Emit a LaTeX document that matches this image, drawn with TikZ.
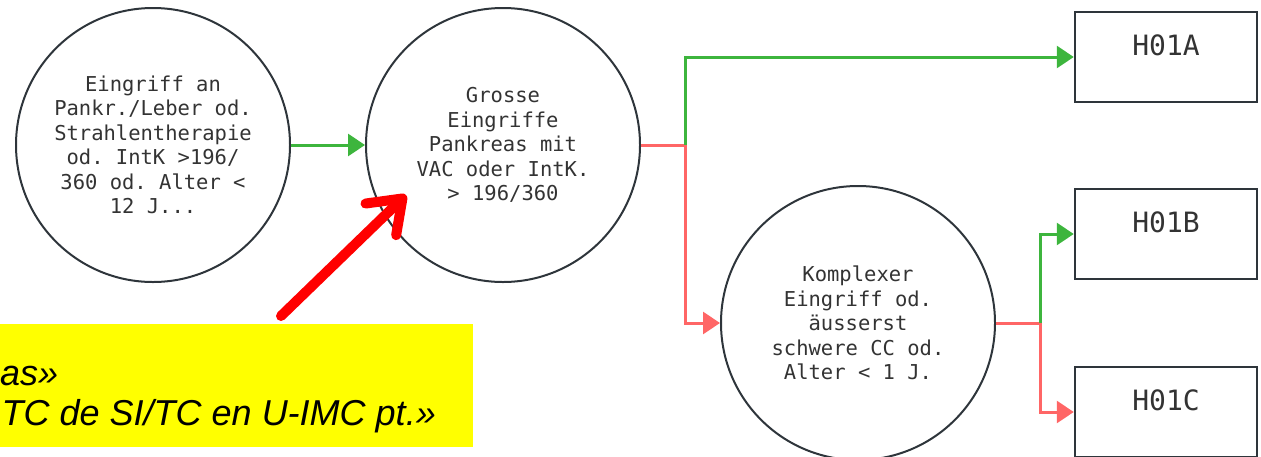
\documentclass[tikz,border=0pt]{standalone}
\usepackage{fontspec}
\setmainfont{Liberation Sans}
\setmonofont{DejaVu Sans Mono}
\usetikzlibrary{arrows.meta}

\definecolor{yesgreen}{HTML}{3DB53D}
\definecolor{nored}{HTML}{FF6666}
\definecolor{outline}{HTML}{2E353B}
\definecolor{ink}{HTML}{333333}
\definecolor{marker}{HTML}{FFFF00}
\definecolor{pointer}{HTML}{FF0000}

\begin{document}
\begin{tikzpicture}[x=1pt,y=-1pt,
    cond/.style={circle,draw=outline,line width=2pt,minimum size=274pt,inner sep=0pt,
        align=center,text=ink,font=\ttfamily\fontsize{20.5}{24.5}\selectfont},
    code/.style={rectangle,draw=outline,line width=2.5pt,minimum width=182pt,minimum height=90pt,
        text=ink,font=\ttfamily\fontsize{28}{30}\selectfont,text height=21pt,text depth=24pt},
    yes/.style={draw=yesgreen,line width=3pt},
    no/.style={draw=nored,line width=3pt},
    tip/.style={-{Triangle[length=17pt,width=22pt]}},
    notebox/.style={fill=marker,inner sep=0pt,minimum width=473pt,minimum height=123pt},
    notetext/.style={inner sep=0pt,font=\itshape\fontsize{36}{40}\selectfont},
    hint/.style={draw=pointer,line width=10pt,line cap=round,line join=round,
        -{Straight Barb[length=30pt,width=44pt,round]}},
    ]
    \useasboundingbox (0,0) rectangle (1261,456);

    % the three questions
    \node[cond] (c1) at (153,145) {Eingriff an\\Pankr./Leber od.\\Strahlentherapie\\od. IntK >196/\\360 od. Alter <\\12 J...};
    \node[cond] (c2) at (503,145) {Grosse\\Eingriffe\\Pankreas mit\\VAC oder IntK.\\> 196/360};
    \node[cond] (c3) at (858,323) {Komplexer\\Eingriff od.\\äusserst\\schwere CC od.\\Alter < 1 J.};

    % resulting codes
    \node[code] (hA) at (1166,57) {H01A};
    \node[code] (hB) at (1166,234) {H01B};
    \node[code] (hC) at (1166,412) {H01C};

    \coordinate (j1) at (685,145);
    \coordinate (j2) at (1040,323);

    \draw[yes,tip] (c1) -- (c2);
    \draw[no] (c2.east) -- (j1);
    \draw[no,tip] (j1) |- (c3);
    \draw[yes,tip] (j1) |- (hA);
    \draw[no] (c3.east) -- (j2);
    \draw[no,tip] (j2) |- (hC);
    \draw[yes,tip] (j2) |- (hB);

    % yellow remark
    \node[notebox] (note) at (236.5,385.5) {};
    \node[notetext,anchor=base west] (note1) at (0,385) {as»};
    \node[notetext,anchor=base east] (note2) at (436,425) {TC de SI/TC en U-IMC pt.»};

    \coordinate (from) at (281,316);
    \coordinate (to) at (406,195);
    \draw[hint] (from) -- (to);
\end{tikzpicture}
\end{document}
